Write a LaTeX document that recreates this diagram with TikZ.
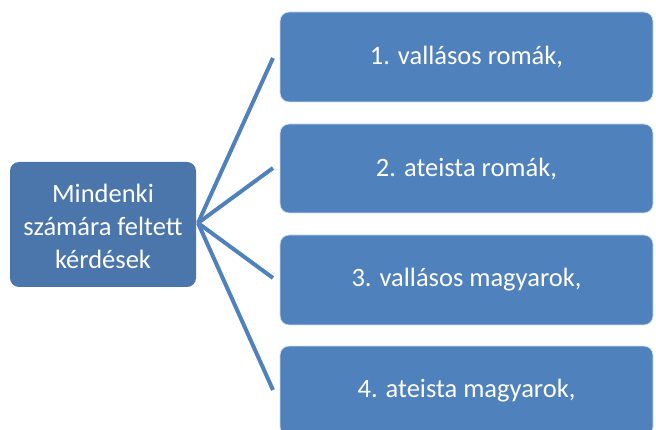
\documentclass[tikz,border=0pt]{standalone}
\usepackage{fontspec}
\setmainfont{Carlito}
\definecolor{leftblue}{HTML}{4A76AB}
\definecolor{rightblue}{HTML}{4F81BD}
\begin{document}
\begin{tikzpicture}[x=1pt,y=-1pt,
  hub/.style={fill=leftblue, draw=none, rounded corners=9pt},
  leaf/.style={fill=rightblue, draw=white!75!rightblue, line width=0.8pt, rounded corners=9pt},
  lbl/.style={text=white, align=center, font=\fontsize{26.5}{33}\selectfont},
  link/.style={draw=rightblue, line width=4pt}]
\useasboundingbox (0,0) rectangle (656,430);
\begin{scope}
\clip (0,0) rectangle (656,430);
\path[hub] (10,162) rectangle (196,287);
\node[lbl] (hub) at (103,226) {Mindenki\\számára feltett\\kérdések};
\coordinate (o) at (198,223);
\path[leaf] (280,12) rectangle (653,102);
\node[lbl] (a) at (466.5,57) {1. vallásos romák,};
\path[leaf] (280,124) rectangle (653,213);
\node[lbl] (b) at (466.5,168.5) {2. ateista romák,};
\path[leaf] (280,235) rectangle (653,325);
\node[lbl] (c) at (466.5,280) {3. vallásos magyarok,};
\path[leaf] (280,346) rectangle (653,436);
\node[lbl] (d) at (466.5,391) {4. ateista magyarok,};
\coordinate (ea) at (273,58);
\coordinate (eb) at (273,168);
\coordinate (ec) at (273,278);
\coordinate (ed) at (273,390);
\draw[link] (o) -- (ea);
\draw[link] (o) -- (eb);
\draw[link] (o) -- (ec);
\draw[link] (o) -- (ed);
\end{scope}
\end{tikzpicture}
\end{document}
